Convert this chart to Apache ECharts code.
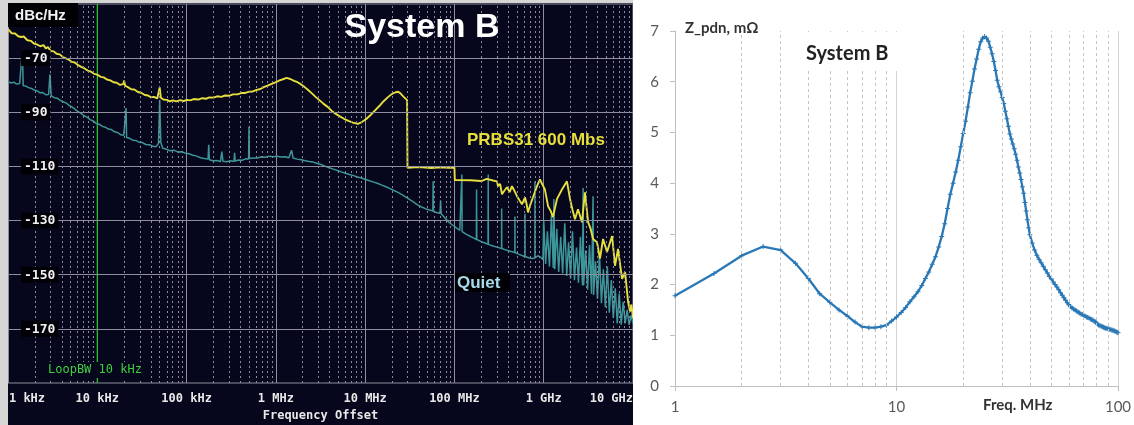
<!DOCTYPE html>
<html><head><meta charset="utf-8">
<script src="https://cdn.jsdelivr.net/npm/echarts@6/dist/echarts.min.js"></script>
<style>
html,body{margin:0;padding:0;background:#fff;width:1134px;height:425px;overflow:hidden;}
#leftWrap{position:absolute;left:0;top:0;width:633px;height:425px;background:#d6d6d6;}
#left{position:absolute;left:8px;top:3px;width:625px;height:422px;background:#06061c;}
#right{position:absolute;left:636px;top:0;width:498px;height:425px;background:#fff;}
</style></head><body>
<div id="leftWrap"><div id="left"></div></div>
<div id="right"></div>
<script>
// ---------- LEFT PANEL DATA (phase noise, Hz vs dBc/Hz) ----------
const leftXLabels = ['1 kHz','10 kHz','100 kHz','1 MHz','10 MHz','100 MHz','1 GHz','10 GHz'];
const leftYTicks = [-70,-90,-110,-130,-150,-170];
const loopBwHz = 1e4;

const prbsTrace = [
 [1e3,-59.3],[1.1e3,-60.8],[1.2e3,-60.9],[1.3e3,-61.9],[1.4e3,-62.2],[1.5e3,-62.0],[1.65e3,-63.4],[1.8e3,-63.6],
 [1.95e3,-64.6],[2.1e3,-64.9],[2.3e3,-65.6],[2.5e3,-65.2],[2.65e3,-66.4],[2.8e3,-65.9],[3e3,-67.3],[3.25e3,-67.5],
 [3.5e3,-68.4],[3.8e3,-68.6],[4.1e3,-69.6],[4.4e3,-70.0],[4.8e3,-70.6],[5.2e3,-71.4],[5.6e3,-71.6],[6.1e3,-72.6],
 [6.6e3,-73.2],[7.2e3,-73.8],[7.8e3,-74.6],[8.5e3,-75.0],[9.2e3,-75.8],[1e4,-76.1],[1.09e4,-76.9],[1.18e4,-77.1],
 [1.28e4,-77.9],[1.4e4,-78.2],[1.52e4,-78.9],[1.65e4,-79.1],[1.8e4,-79.9],[1.95e4,-79.6],[2e4,-78.3],[2.05e4,-80.2],
 [2.2e4,-80.7],[2.4e4,-81.5],[2.6e4,-81.6],[2.85e4,-82.5],[3.1e4,-82.8],[3.4e4,-83.6],[3.7e4,-83.8],[4e4,-84.5],
 [4.3e4,-84.3],[4.7e4,-84.9],[4.9e4,-84.2],[5e4,-80.8],[5.15e4,-84.6],[5.5e4,-85.3],[6e4,-85.4],[6.5e4,-86.0],
 [7e4,-85.6],[7.7e4,-86.0],[8.5e4,-85.5],[9.3e4,-85.9],[1e5,-85.4],[1.1e5,-85.6],[1.2e5,-85.1],[1.35e5,-85.3],
 [1.5e5,-84.8],[1.65e5,-85.0],[1.8e5,-84.5],[2e5,-84.6],[2.2e5,-84.1],[2.45e5,-84.3],[2.7e5,-83.8],[3e5,-83.9],
 [3.3e5,-83.4],[3.7e5,-83.4],[4.1e5,-82.9],[4.5e5,-82.9],[5e5,-82.4],[5.5e5,-82.3],[6e5,-81.8],[6.7e5,-81.4],
 [7.4e5,-80.6],[8.2e5,-80.1],[9e5,-79.5],[1e6,-78.9],[1.1e6,-78.2],[1.2e6,-77.8],[1.32e6,-77.3],[1.45e6,-77.7],
 [1.6e6,-78.4],[1.75e6,-78.9],[1.9e6,-79.6],[2.1e6,-80.7],[2.3e6,-81.8],[2.55e6,-83.1],[2.8e6,-84.4],[3.1e6,-85.6],
 [3.4e6,-86.8],[3.8e6,-88.0],[4.2e6,-89.4],[4.7e6,-90.6],[5.2e6,-91.5],[5.8e6,-92.4],[6.5e6,-93.2],[7.3e6,-93.8],
 [8.3e6,-94.3],[9.2e6,-93.6],[1.03e7,-92.5],[1.15e7,-91.0],[1.3e7,-89.2],[1.45e7,-87.6],[1.6e7,-86.0],[1.8e7,-84.4],
 [2e7,-83.2],[2.2e7,-82.6],[2.35e7,-82.4],[2.5e7,-83.1],[2.7e7,-84.3],[2.95e7,-85.5],[2.98e7,-110.5],[4e7,-110.2],
 [5.5e7,-110.6],[7e7,-110.3],[8.5e7,-110.5],[1e8,-110.4],[1.01e8,-115.0],[1.5e8,-115.1],[2e8,-115.4],[2.3e8,-114.6],
 [2.7e8,-115.2],[3e8,-115.5],[3.07e8,-117.3],[3.25e8,-116.5],[3.41e8,-120.3],[3.65e8,-118.8],[3.88e8,-117.7],
 [4.15e8,-119.5],[4.41e8,-117.3],[4.7e8,-119.0],[5.02e8,-121.0],[5.35e8,-122.5],[5.71e8,-124.0],[6.17e8,-121.4],
 [6.4e8,-123.5],[6.67e8,-127.0],[7.1e8,-124.0],[7.59e8,-121.4],[8.41e8,-117.3],[9.08e8,-114.8],[9.6e8,-116.5],
 [1.03e9,-118.5],[1.12e9,-124.7],[1.2e9,-126.5],[1.27e9,-128.7],[1.41e9,-122.0],[1.6e9,-118.5],[1.82e9,-115.5],
 [1.97e9,-122.0],[2.1e9,-126.0],[2.24e9,-129.5],[2.42e9,-125.8],[2.68e9,-130.6],[2.9e9,-119.6],[3.14e9,-130.6],
 [3.35e9,-133.0],[3.57e9,-136.8],[3.95e9,-138.0],[4.27e9,-144.0],[4.62e9,-136.8],[5.12e9,-141.6],[5.83e9,-135.7],
 [6.29e9,-146.7],[6.8e9,-140.5],[7.54e9,-151.5],[8.15e9,-149.0],[8.81e9,-160.0],[9.27e9,-163.6],[9.6e9,-161.0],[1e10,-166.0]
];

const quietTrace = [
 [1e3,-78.6],[1.08e3,-79.2],[1.16e3,-78.9],[1.25e3,-79.6],[1.35e3,-79.4],[1.42e3,-80.0],[1.45e3,-67.0],[1.48e3,-80.2],
 [1.58e3,-80.3],[1.7e3,-80.9],[1.83e3,-81.2],[1.97e3,-81.8],[2.12e3,-82.1],[2.28e3,-82.8],[2.45e3,-82.7],[2.64e3,-83.5],
 [2.85e3,-83.4],[2.95e3,-76.0],[3.05e3,-83.9],[3.3e3,-84.6],[3.55e3,-84.8],[3.85e3,-85.6],[4.15e3,-86.1],[4.5e3,-86.6],
 [4.85e3,-87.5],[5.25e3,-88.1],[5.65e3,-88.9],[6.1e3,-89.8],[6.6e3,-90.4],[7.1e3,-91.3],[7.7e3,-91.8],[8.3e3,-92.7],
 [9e3,-93.2],[9.7e3,-94.1],[1.05e4,-94.4],[1.14e4,-95.2],[1.23e4,-95.5],[1.33e4,-96.2],[1.44e4,-96.4],[1.56e4,-97.2],
 [1.69e4,-97.5],[1.83e4,-98.3],[1.98e4,-98.5],[2.08e4,-99.0],[2.1e4,-88.4],[2.13e4,-99.3],[2.3e4,-99.6],[2.5e4,-100.3],
 [2.7e4,-100.4],[2.95e4,-101.1],[3.2e4,-101.2],[3.5e4,-101.9],[3.85e4,-102.0],[4.2e4,-102.6],[4.6e4,-102.6],[4.85e4,-101.5],
 [5e4,-85.4],[5.15e4,-101.2],[5.4e4,-103.3],[5.9e4,-103.6],[6.5e4,-104.2],[7.2e4,-104.0],[8e4,-104.7],[8.8e4,-104.6],
 [9.7e4,-105.1],[1.07e5,-105.3],[1.18e5,-105.9],[1.3e5,-106.2],[1.43e5,-106.8],[1.58e5,-107.1],[1.74e5,-107.3],[1.77e5,-102.0],
 [1.8e5,-107.5],[1.98e5,-107.9],[2.18e5,-107.8],[2.4e5,-108.2],[2.48e5,-104.5],[2.56e5,-108.1],[2.8e5,-108.3],[3.1e5,-107.9],
 [3.4e5,-108.2],[3.45e5,-105.0],[3.5e5,-108.0],[3.85e5,-107.6],[4.2e5,-107.7],[4.6e5,-107.2],[4.95e5,-107.3],[5e5,-95.3],
 [5.05e5,-107.1],[5.6e5,-106.9],[6.2e5,-106.9],[6.9e5,-106.4],[7.6e5,-106.6],[8.4e5,-106.2],[9.3e5,-106.4],[1.03e6,-106.2],
 [1.14e6,-106.5],[1.26e6,-106.4],[1.4e6,-106.8],[1.5e6,-104.0],[1.56e6,-106.9],[1.73e6,-107.3],[1.92e6,-107.5],[2.13e6,-107.9],
 [2.36e6,-108.2],[2.62e6,-108.4],[2.9e6,-108.9],[3.2e6,-109.3],[3.55e6,-109.9],[3.95e6,-110.5],[4.4e6,-111.0],[4.9e6,-111.5],
 [5.4e6,-112.0],[6e6,-112.5],[6.7e6,-113.0],[7.4e6,-113.4],[8.2e6,-113.9],[9.1e6,-114.3],[1.01e7,-114.8],[1.12e7,-115.3],
 [1.25e7,-115.8],[1.39e7,-116.3],[1.54e7,-116.9],[1.71e7,-117.5],[1.9e7,-118.2],[2.1e7,-118.9],[2.33e7,-119.6],[2.58e7,-120.4],
 [2.86e7,-121.3],[3.17e7,-122.3],[3.52e7,-123.3],[3.9e7,-124.3],[4.3e7,-125.0],[4.8e7,-125.7],[5.4e7,-126.2],[5.73e7,-126.5],
 [5.78e7,-115.5],[5.83e7,-126.6],[6.3e7,-127.0],[6.9e7,-127.3],[7e7,-122.5],[7.1e7,-127.5],[7.8e7,-129.0],[8.8e7,-130.8],
 [1e8,-132.2],[1.08e8,-133.0],[1.15e8,-133.6],[1.2e8,-134.0],[1.21e8,-113.0],[1.22e8,-134.1],[1.35e8,-135.0],[1.5e8,-135.8],
 [1.65e8,-136.5],[1.76e8,-137.0],[1.77e8,-118.5],[1.78e8,-137.0],[2e8,-137.8],[2.2e8,-138.3],[2.38e8,-138.8],[2.39e8,-113.0],
 [2.4e8,-138.8],[2.7e8,-139.4],[3e8,-139.8],[3.37e8,-140.3],[3.38e8,-125.5],[3.39e8,-140.3],[3.8e8,-140.9],[4.2e8,-141.3],
 [4.75e8,-141.8],[4.76e8,-128.5],[4.77e8,-141.8],[5.3e8,-142.5],[5.8e8,-143.0],[6.16e8,-143.3],[6.17e8,-127.5],[6.18e8,-143.3],
 [6.8e8,-143.7],[7.4e8,-144.0],[7.97e8,-143.8],[7.98e8,-115.5],[7.99e8,-143.7],[8.6e8,-143.0],[9.2e8,-143.5],[9.8e8,-144.5],
 [1e9,-130.0],[1.05e9,-146.0],[1.1e9,-134.0],[1.16e9,-147.0],[1.22e9,-128.0],[1.28e9,-147.5],[1.3e9,-122.0],[1.33e9,-148.0],
 [1.4e9,-133.0],[1.47e9,-149.0],[1.55e9,-136.0],[1.63e9,-149.5],[1.72e9,-131.0],[1.81e9,-150.5],[1.9e9,-138.0],[2e9,-151.5],
 [2.1e9,-134.0],[2.21e9,-152.0],[2.33e9,-140.0],[2.45e9,-153.0],[2.58e9,-136.0],[2.72e9,-154.0],[2.76e9,-118.0],[2.8e9,-154.0],
 [2.95e9,-141.0],[3.1e9,-155.5],[3.26e9,-139.0],[3.43e9,-157.0],[3.57e9,-121.0],[3.62e9,-157.5],[3.8e9,-145.0],[4e9,-159.0],
 [4.21e9,-142.0],[4.43e9,-160.5],[4.66e9,-148.0],[4.9e9,-162.0],[5.16e9,-147.0],[5.43e9,-164.0],[5.72e9,-152.0],[6.02e9,-166.0],
 [6.33e9,-155.0],[6.66e9,-168.0],[7.01e9,-157.0],[7.38e9,-168.5],[7.77e9,-160.0],[8.17e9,-168.0],[8.6e9,-163.0],[9.05e9,-168.5],
 [9.52e9,-165.0],[1e10,-168.0]
];

// ---------- RIGHT PANEL DATA (Z_pdn, MHz vs mOhm) ----------
const zFreq = [1,1.5,2,2.5,3,3.5,4,4.5,5,5.5,6,6.5,7,7.5,8,8.5,9,9.5,10,10.5,11,11.5,12,12.5,13,13.5,14,14.5,15,15.5,
 16,16.5,17,17.5,18,18.5,19,19.5,20,20.5,21,21.5,22,22.5,23,23.5,24,24.5,25,25.5,26,26.5,27,27.5,28,28.5,29,29.5,30,30.5,
 31,31.5,32,32.5,33,33.5,34,34.5,35,35.5,36,36.5,37,37.5,38,38.5,39,39.5,40,
 41,42,43,44,45,46,47,48,49,50,51,52,53,54,55,56,57,58,59,60,61,62,63,64,65,66,67,68,69,70,
 71,72,73,74,75,76,77,78,79,80,81,82,83,84,85,86,87,88,89,90,91,92,93,94,95,96,97,98,99,100];
const zVal = [1.78,2.22,2.57,2.75,2.68,2.42,2.12,1.82,1.65,1.50,1.38,1.26,1.17,1.15,1.15,1.17,1.20,1.28,1.36,1.45,
 1.55,1.66,1.76,1.86,1.98,2.12,2.25,2.40,2.55,2.74,2.95,3.20,3.50,3.78,4.00,4.22,4.45,4.72,4.98,5.22,
 5.50,5.78,6.01,6.25,6.45,6.64,6.79,6.86,6.89,6.86,6.80,6.68,6.55,6.40,6.22,6.03,5.90,5.80,5.69,5.57,
 5.42,5.27,5.12,4.97,4.87,4.77,4.68,4.57,4.45,4.32,4.20,4.07,3.93,3.80,3.62,3.45,3.28,3.12,2.98,
 2.82,2.68,2.58,2.50,2.43,2.36,2.29,2.23,2.16,2.11,2.05,2.00,1.95,1.90,1.84,1.79,1.74,1.69,1.64,1.60,
 1.57,1.54,1.52,1.50,1.48,1.46,1.44,1.42,1.41,1.39,1.38,1.36,1.35,1.34,1.32,1.31,1.30,1.28,1.26,1.24,
 1.22,1.20,1.19,1.18,1.17,1.16,1.15,1.14,1.14,1.13,1.12,1.12,1.11,1.10,1.10,1.09,1.08,1.07,1.06,1.05];
const rightYTicks = [0,1,2,3,4,5,6,7];

// minor gridline positions (2..9 within each decade)
const leftMinor = [];
for (let d = 3; d < 10; d++) for (let m = 2; m <= 9; m++) leftMinor.push(m * Math.pow(10, d));
const rightMinor = [];
for (let d = 0; d < 2; d++) for (let m = 2; m <= 9; m++) rightMinor.push(m * Math.pow(10, d));

const mono = 'DejaVu Sans Mono';

// ---------- LEFT CHART ----------
const left = echarts.init(document.getElementById('left'));
left.setOption({
  animation: false,
  grid: {left: 0, right: 0, top: 1, bottom: 42, containLabel: false, outerBoundsMode: 'none',
         show: true, borderColor: '#8e8e9e', borderWidth: 1},
  xAxis: {
    type: 'log', logBase: 10, min: 1e3, max: 1e10,
    axisLine: {show: false}, axisTick: {show: false},
    splitLine: {show: true, lineStyle: {color: '#8e8e9e', width: 1}},
    axisLabel: {color: '#e8e8e8', fontFamily: mono, fontWeight: 'bold', fontSize: 12, margin: 10,
      alignMaxLabel: 'right',
      formatter: v => {
        const i = Math.round(Math.log10(v)) - 3;
        return i === 0 ? '{first|' + leftXLabels[i] + '}' : leftXLabels[i];
      },
      rich: {first: {color: '#e8e8e8', fontFamily: mono, fontWeight: 'bold', fontSize: 12, padding: [0, 0, 0, 38]}}},
    name: 'Frequency Offset', nameLocation: 'middle', nameGap: 26,
    nameTextStyle: {color: '#e8e8e8', fontFamily: mono, fontWeight: 'bold', fontSize: 12}
  },
  yAxis: {
    type: 'value', min: -190, max: -50, interval: 10, z: 10,
    axisLine: {show: false}, axisTick: {show: false}, splitLine: {show: false},
    axisLabel: {inside: true, margin: 13,
      formatter: v => leftYTicks.includes(v) ? '{b|' + v + '}' : '',
      rich: {b: {color: '#f0f0f0', fontFamily: mono, fontWeight: 'bold', fontSize: 13,
                 backgroundColor: '#000006', padding: [2, 3, 1, 3]}}}
  },
  series: [
    {type: 'line', data: [], silent: true, z: 1,
     markLine: {silent: true, symbol: ['none', 'none'], label: {show: false}, animation: false,
       data: [
         ...leftMinor.map(v => ({xAxis: v, lineStyle: {type: [2, 3], color: '#8a8a9c', width: 1}})),
         ...leftYTicks.map(v => ({yAxis: v, lineStyle: {type: 'solid', color: '#8e8e9e', width: 1}}))
       ]}},
    {name: 'LoopBW', type: 'line', silent: true, z: 2, symbol: 'none',
     data: [[loopBwHz, -190], [loopBwHz, -50]],
     lineStyle: {color: '#22c022', width: 1.2}, itemStyle: {color: '#22c022'}},
    {name: 'Quiet', type: 'line', z: 3, symbol: 'none', data: quietTrace,
     lineStyle: {color: '#3c9598', width: 1.5}, itemStyle: {color: '#3c9598'}},
    {name: 'PRBS31 600 Mbs', type: 'line', z: 4, symbol: 'none', data: prbsTrace,
     lineStyle: {color: '#e6df3c', width: 1.9}, itemStyle: {color: '#e6df3c'}}
  ],
  graphic: [
    {type: 'rect', z: 50, silent: true, shape: {x: 0, y: 0, width: 70, height: 24}, style: {fill: '#000004'}},
    {type: 'text', z: 51, x: 7, y: 13, style: {text: 'dBc/Hz', fill: '#f2f2f2', font: 'bold 15px "Liberation Sans"', verticalAlign: 'middle'}},
    {type: 'text', z: 51, x: 414, y: 25, style: {text: 'System B', fill: '#ffffff', font: 'bold 34px "Liberation Sans"', align: 'center', verticalAlign: 'middle'}},
    {type: 'text', z: 51, x: 459, y: 137, style: {text: 'PRBS31 600 Mbs', fill: '#e6df3a', font: 'bold 17px "Liberation Sans"', verticalAlign: 'middle'}},
    {type: 'rect', z: 50, silent: true, shape: {x: 447, y: 270, width: 55, height: 19}, style: {fill: '#000004'}},
    {type: 'text', z: 51, x: 449, y: 280, style: {text: 'Quiet', fill: '#a6d9ea', font: 'bold 17px "Liberation Sans"', verticalAlign: 'middle'}},
    {type: 'rect', z: 50, silent: true, shape: {x: 38, y: 359, width: 101, height: 16}, style: {fill: '#06061c'}},
    {type: 'text', z: 51, x: 40, y: 367, style: {text: 'LoopBW 10 kHz', fill: '#3fd03f', font: '12px "DejaVu Sans Mono"', verticalAlign: 'middle'}}
  ]
});

// ---------- RIGHT CHART ----------
const rfont = 'Lato';
const right = echarts.init(document.getElementById('right'));
right.setOption({
  animation: false,
  grid: {left: 39, right: 16, top: 31, bottom: 39, containLabel: false, outerBoundsMode: 'none'},
  xAxis: {
    type: 'log', logBase: 10, min: 1, max: 100,
    axisLine: {show: true, lineStyle: {color: '#bfbfbf', width: 1}},
    axisTick: {show: true, length: 5, lineStyle: {color: '#bfbfbf'}},
    splitLine: {show: true, lineStyle: {color: '#d4d4d4', width: 1}},
    axisLabel: {color: '#595959', fontFamily: rfont, fontSize: 15, margin: 14}
  },
  yAxis: {
    type: 'value', min: 0, max: 7, interval: 1,
    axisLine: {show: true, lineStyle: {color: '#bfbfbf', width: 1}},
    axisTick: {show: true, length: 5, lineStyle: {color: '#bfbfbf'}},
    splitLine: {show: false},
    axisLabel: {color: '#595959', fontFamily: rfont, fontSize: 15, margin: 16,
      formatter: v => rightYTicks.includes(v) ? String(v) : ''}
  },
  series: [
    {type: 'line', data: [], silent: true, z: 1,
     markLine: {silent: true, symbol: ['none', 'none'], label: {show: false}, animation: false,
       data: rightMinor.map(v => ({xAxis: v, lineStyle: {type: [3, 3], color: '#c4c4c4', width: 1}}))}},
    {name: 'Z_pdn', type: 'line', z: 3, data: zFreq.map((f, i) => [f, zVal[i]]),
     symbol: 'path://M0,4H10V6H0ZM4,0H6V10H4Z', symbolSize: 5, showSymbol: true,
     itemStyle: {color: '#2a78b6'}, lineStyle: {color: '#2a78b6', width: 2.3}}
  ],
  graphic: [
    {type: 'text', z: 51, x: 49, y: 28, style: {text: 'Z_pdn, mΩ', fill: '#333333', font: 'bold 15px Lato', verticalAlign: 'middle'}},
    {type: 'rect', z: 50, silent: true, shape: {x: 163, y: 32, width: 98, height: 39}, style: {fill: '#ffffff'}},
    {type: 'text', z: 51, x: 170, y: 54, style: {text: 'System B', fill: '#222222', font: 'bold 20px Lato', verticalAlign: 'middle'}},
    {type: 'text', z: 51, x: 347, y: 405, style: {text: 'Freq. MHz', fill: '#333333', font: 'bold 15px Lato', verticalAlign: 'middle'}}
  ]
});
</script>
</body></html>
